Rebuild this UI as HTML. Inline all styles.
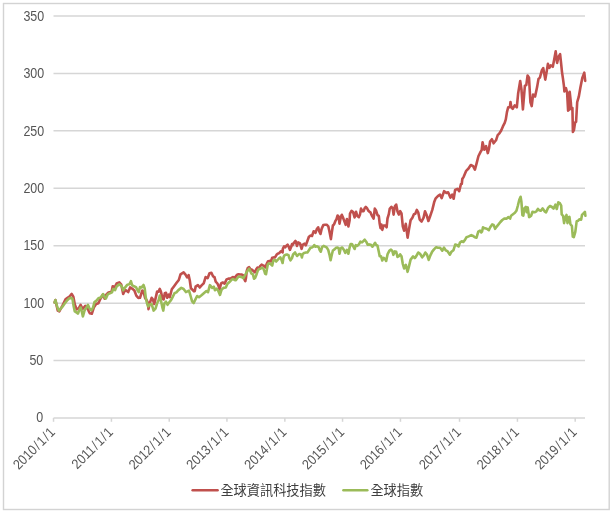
<!DOCTYPE html>
<html><head><meta charset="utf-8"><style>
html,body{margin:0;padding:0;background:#fff;}
body{width:614px;height:516px;overflow:hidden;}
svg{display:block;filter:blur(0.35px);}
text{font-family:"Liberation Sans","Noto Sans CJK TC",sans-serif;font-size:13px;fill:#555555;}
text.n{font-size:14px;}
text.lg{font-size:13.2px;fill:#3f3f3f;}
</style></head><body>
<svg width="614" height="516" viewBox="0 0 614 516">
<rect x="0" y="0" width="614" height="516" fill="#fff"/>
<rect x="3.5" y="3.5" width="605.7" height="506" fill="none" stroke="#d3d3d3" stroke-width="1.4"/>
<g stroke="#d6d6d6" stroke-width="1.5">
<line x1="53.5" y1="360.57" x2="585.0" y2="360.57"/>
<line x1="53.5" y1="303.14" x2="585.0" y2="303.14"/>
<line x1="53.5" y1="245.71" x2="585.0" y2="245.71"/>
<line x1="53.5" y1="188.29" x2="585.0" y2="188.29"/>
<line x1="53.5" y1="130.86" x2="585.0" y2="130.86"/>
<line x1="53.5" y1="73.43" x2="585.0" y2="73.43"/>
<line x1="53.5" y1="16.00" x2="585.0" y2="16.00"/>
</g>
<g stroke="#d6d6d6" stroke-width="1.5">
<line x1="53.5" y1="418" x2="585.0" y2="418"/>
<line x1="53.52" y1="418" x2="53.52" y2="421.8"/>
<line x1="111.43" y1="418" x2="111.43" y2="421.8"/>
<line x1="169.23" y1="418" x2="169.23" y2="421.8"/>
<line x1="226.94" y1="418" x2="226.94" y2="421.8"/>
<line x1="284.85" y1="418" x2="284.85" y2="421.8"/>
<line x1="342.55" y1="418" x2="342.55" y2="421.8"/>
<line x1="400.46" y1="418" x2="400.46" y2="421.8"/>
<line x1="459.52" y1="418" x2="459.52" y2="421.8"/>
<line x1="517.43" y1="418" x2="517.43" y2="421.8"/>
<line x1="575.19" y1="418" x2="575.19" y2="421.8"/>
</g>
<g>
<text class="n" transform="translate(43.3,422.17) scale(0.89,1)" text-anchor="end">0</text>
<text class="n" transform="translate(43.3,364.86) scale(0.89,1)" text-anchor="end">50</text>
<text class="n" transform="translate(44.2,307.55) scale(0.89,1)" text-anchor="end">100</text>
<text class="n" transform="translate(44.2,250.24) scale(0.89,1)" text-anchor="end">150</text>
<text class="n" transform="translate(44.2,192.93) scale(0.89,1)" text-anchor="end">200</text>
<text class="n" transform="translate(44.2,135.62) scale(0.89,1)" text-anchor="end">250</text>
<text class="n" transform="translate(44.2,78.31) scale(0.89,1)" text-anchor="end">300</text>
<text class="n" transform="translate(44.2,21.00) scale(0.89,1)" text-anchor="end">350</text>
</g>
<g>
<text class="n" transform="translate(56.0,433) rotate(-45) scale(0.89,1)" text-anchor="end">2010<tspan dx="1.2">/</tspan><tspan dx="1.2">1</tspan><tspan dx="1.2">/</tspan><tspan dx="1.2">1</tspan></text>
<text class="n" transform="translate(113.9,433) rotate(-45) scale(0.89,1)" text-anchor="end">2011<tspan dx="1.2">/</tspan><tspan dx="1.2">1</tspan><tspan dx="1.2">/</tspan><tspan dx="1.2">1</tspan></text>
<text class="n" transform="translate(171.7,433) rotate(-45) scale(0.89,1)" text-anchor="end">2012<tspan dx="1.2">/</tspan><tspan dx="1.2">1</tspan><tspan dx="1.2">/</tspan><tspan dx="1.2">1</tspan></text>
<text class="n" transform="translate(229.4,433) rotate(-45) scale(0.89,1)" text-anchor="end">2013<tspan dx="1.2">/</tspan><tspan dx="1.2">1</tspan><tspan dx="1.2">/</tspan><tspan dx="1.2">1</tspan></text>
<text class="n" transform="translate(287.4,433) rotate(-45) scale(0.89,1)" text-anchor="end">2014<tspan dx="1.2">/</tspan><tspan dx="1.2">1</tspan><tspan dx="1.2">/</tspan><tspan dx="1.2">1</tspan></text>
<text class="n" transform="translate(345.1,433) rotate(-45) scale(0.89,1)" text-anchor="end">2015<tspan dx="1.2">/</tspan><tspan dx="1.2">1</tspan><tspan dx="1.2">/</tspan><tspan dx="1.2">1</tspan></text>
<text class="n" transform="translate(403.0,433) rotate(-45) scale(0.89,1)" text-anchor="end">2016<tspan dx="1.2">/</tspan><tspan dx="1.2">1</tspan><tspan dx="1.2">/</tspan><tspan dx="1.2">1</tspan></text>
<text class="n" transform="translate(462.0,433) rotate(-45) scale(0.89,1)" text-anchor="end">2017<tspan dx="1.2">/</tspan><tspan dx="1.2">1</tspan><tspan dx="1.2">/</tspan><tspan dx="1.2">1</tspan></text>
<text class="n" transform="translate(519.9,433) rotate(-45) scale(0.89,1)" text-anchor="end">2018<tspan dx="1.2">/</tspan><tspan dx="1.2">1</tspan><tspan dx="1.2">/</tspan><tspan dx="1.2">1</tspan></text>
<text class="n" transform="translate(577.7,433) rotate(-45) scale(0.89,1)" text-anchor="end">2019<tspan dx="1.2">/</tspan><tspan dx="1.2">1</tspan><tspan dx="1.2">/</tspan><tspan dx="1.2">1</tspan></text>
</g>
<polyline fill="none" stroke="#c0504d" stroke-width="2.6" stroke-linejoin="round" stroke-linecap="round" points="54.6,302.4 55.4,300.1 57.8,310.6 59.3,311.4 62.5,305.5 65.5,299.3 67.5,297.8 69.5,296.5 71.7,293.9 73.3,296.6 74.8,304.4 76.7,309.4 78.7,308.3 80.6,304.8 82.6,309.0 85.3,305.9 87.0,306.5 88.8,311.4 89.9,313.3 91.8,313.8 93.8,307.6 96.1,304.1 98.4,303.3 100.3,299.0 103.1,294.5 104.6,298.6 106.5,294.4 108.5,292.4 111.6,291.7 112.7,286.2 114.7,287.4 116.6,283.5 119.3,282.4 121.3,284.7 123.2,294.0 125.1,290.1 125.9,290.2 128.2,292.1 130.1,287.4 132.1,288.6 134.4,290.5 136.3,295.6 138.3,297.9 140.0,297.8 141.2,294.0 142.3,290.5 143.5,291.5 145.0,297.8 146.6,300.2 147.8,302.5 148.5,309.1 149.7,303.3 151.6,297.8 152.8,299.4 154.3,304.0 155.5,298.6 157.1,291.6 158.6,291.6 159.8,288.9 160.9,291.6 162.5,298.6 163.6,299.4 164.8,293.2 166.0,292.8 167.1,297.8 168.7,294.7 169.8,297.1 171.8,289.3 174.1,286.2 176.4,283.1 178.8,280.0 180.5,274.3 183.6,272.4 185.5,274.7 187.1,277.4 188.6,275.1 189.8,280.5 190.9,288.3 192.5,289.8 194.0,291.4 194.8,291.0 195.6,286.7 197.9,285.2 199.8,287.5 201.8,285.2 203.7,283.3 205.6,277.1 207.6,278.2 209.5,273.2 211.4,272.8 213.0,276.3 214.5,277.1 215.7,281.7 217.3,283.3 218.4,285.6 219.6,289.5 221.1,283.3 222.7,282.5 224.6,283.6 226.6,279.4 228.5,278.6 230.4,278.6 232.8,277.1 235.4,277.9 236.0,275.9 237.2,274.8 238.6,274.2 240.1,274.5 241.5,274.5 243.0,275.1 244.4,279.4 245.3,281.2 245.9,278.3 246.8,270.7 247.9,267.8 249.1,267.2 250.5,269.2 252.0,269.8 253.4,271.0 254.9,272.4 256.1,269.5 257.5,267.5 259.0,268.1 260.4,265.8 261.6,264.6 263.0,265.5 264.5,266.0 265.5,267.5 266.7,263.8 268.1,261.2 269.6,260.9 271.0,261.5 272.2,257.7 273.6,257.4 275.0,257.4 276.5,254.8 277.7,253.7 279.2,253.1 280.3,251.9 281.8,250.8 282.6,252.5 282.9,248.7 284.1,246.4 285.3,247.3 286.4,245.8 287.6,244.7 288.7,246.7 289.9,249.9 291.1,247.0 292.0,244.1 292.4,245.2 293.9,242.8 295.5,240.9 297.0,245.9 298.2,242.4 300.0,243.3 301.6,248.8 302.7,244.9 304.3,243.7 305.8,245.3 307.4,241.0 308.9,236.7 310.5,235.6 312.0,236.0 313.6,231.3 314.7,231.7 315.5,232.9 316.7,229.4 318.2,227.4 319.4,231.7 320.5,234.0 321.7,228.6 323.3,225.1 325.2,224.7 326.7,224.7 328.3,226.3 329.5,231.7 330.9,239.1 331.8,232.5 332.9,225.5 334.1,224.3 335.3,221.2 336.4,219.3 337.6,215.5 338.7,216.7 339.5,223.7 340.7,217.5 341.8,214.8 343.0,217.5 344.1,220.6 345.7,224.8 346.9,219.0 348.4,226.4 349.6,220.6 350.0,213.6 351.5,210.9 353.1,212.1 354.6,217.5 356.0,211.7 357.3,215.9 358.9,217.1 360.0,214.4 361.0,208.6 362.4,211.3 363.5,211.3 364.7,208.2 365.8,207.0 367.0,208.2 368.2,210.5 369.3,211.7 370.5,212.4 372.0,215.9 373.6,218.6 374.8,208.6 376.0,210.5 377.5,215.1 378.8,215.9 379.7,223.8 380.5,228.1 381.4,224.6 382.3,229.9 383.6,225.5 385.3,225.5 386.6,227.3 387.5,218.5 388.8,214.2 389.7,208.9 391.4,206.8 392.7,208.1 393.6,214.6 394.9,206.3 396.2,204.6 397.5,211.6 398.8,214.6 400.2,211.1 401.5,213.3 402.8,226.4 404.1,230.7 405.8,223.8 407.6,237.7 408.9,229.9 410.6,220.3 412.4,217.7 413.9,214.2 415.3,213.8 416.8,209.9 418.2,212.3 419.7,219.6 421.6,221.5 423.6,217.6 425.0,211.3 426.5,214.7 428.4,221.0 430.3,215.7 432.3,209.9 434.2,202.1 435.7,198.3 438.1,195.8 440.0,194.7 441.7,198.1 444.1,191.2 446.4,192.9 448.1,192.3 450.5,197.6 452.2,194.7 453.7,198.7 455.1,190.0 457.4,188.8 459.2,191.2 460.9,184.2 461.8,183.8 462.3,179.0 463.8,176.6 466.2,170.8 468.5,168.5 470.8,165.0 473.1,166.2 474.9,169.7 476.6,163.3 478.4,156.3 480.7,151.6 481.7,150.0 482.6,142.2 484.3,149.7 486.1,146.2 487.8,153.1 489.0,148.5 490.1,141.5 491.9,139.2 493.6,143.3 496.0,140.3 497.7,135.1 499.4,133.4 501.2,130.5 502.9,126.4 504.7,122.9 505.8,119.4 507.0,111.9 508.2,107.2 509.9,107.2 510.5,102.0 511.4,107.4 512.7,108.8 514.7,105.4 516.8,107.4 518.1,93.8 520.2,81.0 521.5,89.8 522.9,109.5 524.9,85.7 526.3,85.0 527.6,75.5 529.0,77.6 530.4,102.0 531.7,106.1 533.1,94.5 535.1,96.6 537.1,87.1 538.5,78.9 539.9,77.6 541.9,70.1 543.2,68.1 545.3,79.6 546.6,72.1 547.9,63.9 549.4,67.8 550.8,65.3 552.8,66.8 554.2,59.5 555.7,51.3 557.1,62.9 558.6,56.6 560.1,54.2 561.0,62.4 562.0,72.1 563.0,78.9 563.9,85.7 564.4,91.4 566.0,88.2 567.1,92.5 568.1,110.6 569.2,109.5 569.7,91.9 570.8,102.1 571.3,109.0 572.4,107.9 572.9,131.9 574.0,129.8 575.1,122.3 576.1,121.8 577.2,102.1 578.8,96.7 580.4,87.6 582.3,77.9 584.3,72.6 585.2,80.9"/>
<polyline fill="none" stroke="#9bbb59" stroke-width="2.6" stroke-linejoin="round" stroke-linecap="round" points="54.6,302.4 55.4,300.1 57.4,307.5 58.9,310.6 60.9,308.3 62.8,306.3 64.7,303.6 66.7,300.9 69.0,298.6 71.3,297.8 72.5,299.0 73.6,305.9 74.8,311.4 76.7,312.5 77.9,313.7 79.1,310.6 80.6,307.5 81.8,311.4 82.9,316.4 84.5,310.6 86.0,308.3 87.9,304.8 89.5,308.3 91.4,310.3 93.0,307.6 94.5,302.1 96.5,300.6 98.4,298.3 100.7,297.5 103.1,294.0 104.6,297.1 105.8,298.6 107.7,294.4 110.0,293.2 112.0,292.4 113.1,289.0 115.1,290.1 116.6,286.6 119.3,284.3 121.7,286.2 123.2,290.3 124.8,287.8 127.4,284.7 129.4,284.3 130.9,281.2 132.1,285.1 134.0,286.3 136.0,287.1 137.5,290.2 138.7,292.1 140.0,287.0 141.6,287.4 143.5,285.0 144.7,288.5 145.8,297.8 147.0,303.3 148.1,306.4 149.7,304.4 151.6,304.0 152.8,307.9 153.6,310.6 155.5,308.7 157.1,303.3 158.6,300.2 159.8,295.5 160.9,300.2 162.5,307.9 163.3,310.6 164.4,303.3 166.0,301.7 167.5,304.8 169.1,302.5 171.0,300.2 172.6,297.1 174.5,293.2 176.4,292.4 178.4,290.1 180.0,288.9 181.3,287.9 183.6,289.0 185.9,292.1 187.5,291.4 189.0,290.6 190.6,296.0 192.1,301.4 193.7,303.0 195.2,299.9 197.1,296.0 199.0,297.2 201.8,294.9 204.1,292.9 206.4,291.0 208.0,292.2 209.9,285.2 212.2,287.9 213.8,286.7 214.9,290.2 216.5,288.7 218.0,290.2 220.0,294.9 221.5,289.8 223.5,287.9 225.8,287.5 227.3,284.0 229.7,281.7 232.0,279.4 233.1,279.1 235.4,280.3 236.0,280.0 237.2,278.3 238.6,276.5 240.1,276.8 241.8,277.1 243.3,278.3 244.7,275.9 246.2,273.0 247.6,270.7 249.1,268.7 250.2,270.7 251.4,273.6 252.9,274.2 254.0,278.8 255.2,277.7 256.6,274.2 257.8,270.7 259.0,269.0 260.4,268.7 261.9,267.8 263.3,268.4 264.2,270.7 265.1,273.6 266.0,274.2 267.8,264.4 269.0,263.3 270.4,263.8 272.2,265.6 273.3,260.6 274.8,259.8 276.2,261.5 277.4,260.1 278.9,258.6 280.3,257.4 281.5,259.8 282.6,263.0 283.5,257.4 284.4,255.4 285.5,254.8 287.0,254.5 288.5,255.1 289.3,258.0 290.5,260.3 292.0,258.0 293.1,254.5 295.1,252.5 297.0,256.0 299.0,254.1 300.0,254.0 301.2,254.8 301.9,257.5 302.7,254.0 304.3,252.9 305.8,252.5 307.4,252.5 308.9,250.2 310.5,247.8 312.0,247.4 313.2,246.7 314.3,245.1 315.5,246.7 317.1,246.3 318.6,247.1 319.8,250.2 320.8,251.7 322.1,247.1 323.6,245.9 325.2,246.7 326.7,247.4 328.3,250.2 329.5,254.8 330.6,260.2 331.8,254.8 332.9,250.5 334.5,249.4 336.0,247.8 337.6,247.5 338.7,248.3 339.5,253.7 340.7,248.3 342.2,247.5 343.8,249.8 345.3,252.9 346.9,249.8 348.4,253.7 349.6,247.5 350.7,244.0 351.9,244.0 353.4,246.7 354.6,249.0 355.8,245.2 357.3,245.9 358.9,244.4 360.4,241.7 362.0,242.4 363.1,241.3 364.7,239.7 366.2,241.7 367.8,244.8 369.3,244.4 370.9,244.8 372.4,246.7 374.0,244.4 375.1,242.8 376.0,244.8 377.5,245.7 378.8,251.8 379.7,256.2 381.0,256.2 382.3,260.5 383.6,257.9 384.9,258.8 386.2,261.0 387.5,254.4 389.3,250.9 391.0,249.6 392.3,250.9 393.4,254.8 394.9,251.4 396.2,251.8 397.5,257.0 398.8,256.2 400.2,254.4 401.5,256.2 402.8,264.0 404.1,268.4 405.8,264.9 407.6,271.8 408.9,266.6 410.6,259.6 413.1,256.4 414.8,258.1 416.1,256.4 418.3,252.5 420.0,253.8 422.2,257.3 424.0,255.1 425.3,252.5 427.0,254.6 428.7,259.9 430.5,255.1 432.2,251.6 434.0,249.4 436.2,247.2 437.9,247.7 440.1,247.7 442.3,250.7 444.0,247.7 445.7,250.3 447.5,251.2 449.9,254.7 451.2,252.1 453.4,250.3 455.2,244.6 456.9,245.1 458.6,246.4 460.0,242.5 461.7,241.2 463.4,242.0 464.7,240.3 466.5,237.2 468.7,236.4 471.3,235.1 473.0,235.9 474.8,237.2 476.5,237.7 478.3,231.6 480.0,230.7 481.3,232.4 482.0,231.7 483.0,227.3 484.9,228.3 486.8,228.8 488.8,230.2 490.2,227.3 492.2,224.4 493.6,224.9 495.1,228.8 496.5,226.8 498.5,224.4 500.4,222.0 502.3,220.0 504.3,218.6 506.7,218.6 508.2,217.1 510.1,218.6 511.1,215.7 513.0,214.2 514.9,212.8 516.4,210.8 517.9,205.5 519.3,199.7 520.6,196.8 521.4,201.6 522.4,215.2 523.3,215.7 524.3,208.4 525.8,207.0 526.7,212.3 527.7,207.4 529.1,217.1 530.1,216.6 531.1,215.7 532.5,211.8 534.5,212.3 536.4,211.3 537.9,208.9 539.3,210.3 540.8,210.8 542.7,208.4 544.6,211.3 546.1,212.3 548.0,207.9 550.0,206.0 551.9,207.0 553.5,208.6 555.4,204.7 556.8,209.0 558.3,202.3 559.8,203.2 561.2,205.7 561.7,214.4 563.1,215.8 564.1,223.1 565.1,218.3 566.5,214.9 567.5,223.1 568.5,217.3 569.4,216.8 570.4,224.1 571.9,226.0 572.8,236.7 573.8,237.2 575.3,231.8 576.7,221.2 578.2,220.7 579.6,219.2 581.1,219.7 582.0,214.9 583.5,213.4 584.9,212.0 585.4,215.8"/>
<line x1="192.6" y1="490.2" x2="217.6" y2="490.2" stroke="#c0504d" stroke-width="2.5" stroke-linecap="round"/>
<text class="lg" x="220.4" y="495.1">全球資訊科技指數</text>
<line x1="343.4" y1="490.2" x2="367.3" y2="490.2" stroke="#9bbb59" stroke-width="2.5" stroke-linecap="round"/>
<text class="lg" x="370.4" y="495.1">全球指數</text>
</svg>
</body></html>
